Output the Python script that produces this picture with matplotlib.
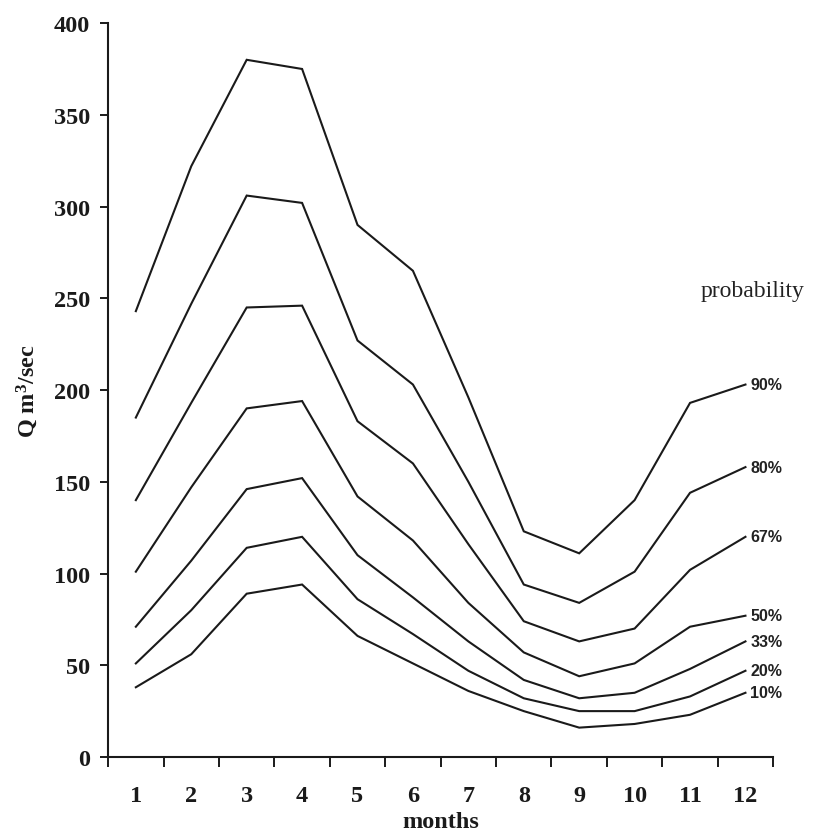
import matplotlib
matplotlib.use("Agg")
import matplotlib.pyplot as plt
from matplotlib.ticker import FixedLocator

months = [1, 2, 3, 4, 5, 6, 7, 8, 9, 10, 11, 12]
month_labels = ["1", "2", "3", "4", "5", "6", "7", "8", "9", "10", "11", "12"]
y_ticks = [0, 50, 100, 150, 200, 250, 300, 350, 400]

q90 = [243, 322, 380, 375, 290, 265, 196, 123, 111, 140, 193, 203]
q80 = [185, 247, 306, 302, 227, 203, 150, 94, 84, 101, 144, 158]
q67 = [140, 193, 245, 246, 183, 160, 116, 74, 63, 70, 102, 120]
q50 = [101, 147, 190, 194, 142, 118, 84, 57, 44, 51, 71, 77]
q33 = [71, 107, 146, 152, 110, 87, 63, 42, 32, 35, 48, 63]
q20 = [51, 80, 114, 120, 86, 67, 47, 32, 25, 25, 33, 47]
q10 = [38, 56, 89, 94, 66, 51, 36, 25, 16, 18, 23, 35]

series = [q90, q80, q67, q50, q33, q20, q10]
series_labels = ["90%", "80%", "67%", "50%", "33%", "20%", "10%"]

plt.rcParams['mathtext.fontset'] = 'custom'
plt.rcParams['mathtext.rm'] = 'Liberation Serif:bold'
plt.rcParams['mathtext.bf'] = 'Liberation Serif:bold'
plt.rcParams['mathtext.it'] = 'Liberation Serif:bold'

fig = plt.figure(figsize=(8.13, 8.37), dpi=100)
ax = fig.add_axes([0.133, 0.0944, 0.818, 0.8768])

for vals, lab in zip(series, series_labels):
    ax.plot(months, vals, color="#1a1a1a", lw=1.5, solid_joinstyle="miter")
    ax.annotate(lab, xy=(months[-1], vals[-1]), xytext=(3.5, 0),
                textcoords="offset points", ha="left", va="center",
                fontsize=11.5, fontweight="bold", family="Liberation Sans",
                color="#222222", annotation_clip=False)

ax.text(11.19, 254, "probability", fontsize=17, family="Liberation Serif",
        ha="left", va="center", color="#222222", clip_on=False)

ax.set_xlim(0.5, 12.5)
ax.set_ylim(0, 400)
ax.spines['top'].set_visible(False)
ax.spines['right'].set_visible(False)
for s in ['left', 'bottom']:
    ax.spines[s].set_linewidth(1.5)
    ax.spines[s].set_color("#1a1a1a")

ax.set_xticks(months)
ax.set_xticklabels(month_labels)
ax.xaxis.set_minor_locator(FixedLocator([m - 0.5 for m in months] + [12.5]))
ax.tick_params(axis='x', which='major', length=0, pad=20)
ax.tick_params(axis='x', which='minor', length=7, width=1.4, direction='out', color="#1a1a1a")
ax.set_yticks(y_ticks)
ax.tick_params(axis='y', which='major', length=6, width=1.4, direction='out', pad=7, color="#1a1a1a")

for lab in ax.get_xticklabels() + ax.get_yticklabels():
    lab.set_fontfamily("Liberation Serif")
    lab.set_fontweight("bold")
    lab.set_fontsize(17.5)
    lab.set_color("#1a1a1a")

ax.set_xlabel("months", fontsize=17.5, fontweight="bold", family="Liberation Serif",
              labelpad=4, color="#1a1a1a")
ax.set_ylabel(r"Q m$^{3}$/sec", fontsize=17.5, fontweight="bold", family="Liberation Serif",
              labelpad=10, color="#1a1a1a")

fig.savefig("out.png", dpi=100)
